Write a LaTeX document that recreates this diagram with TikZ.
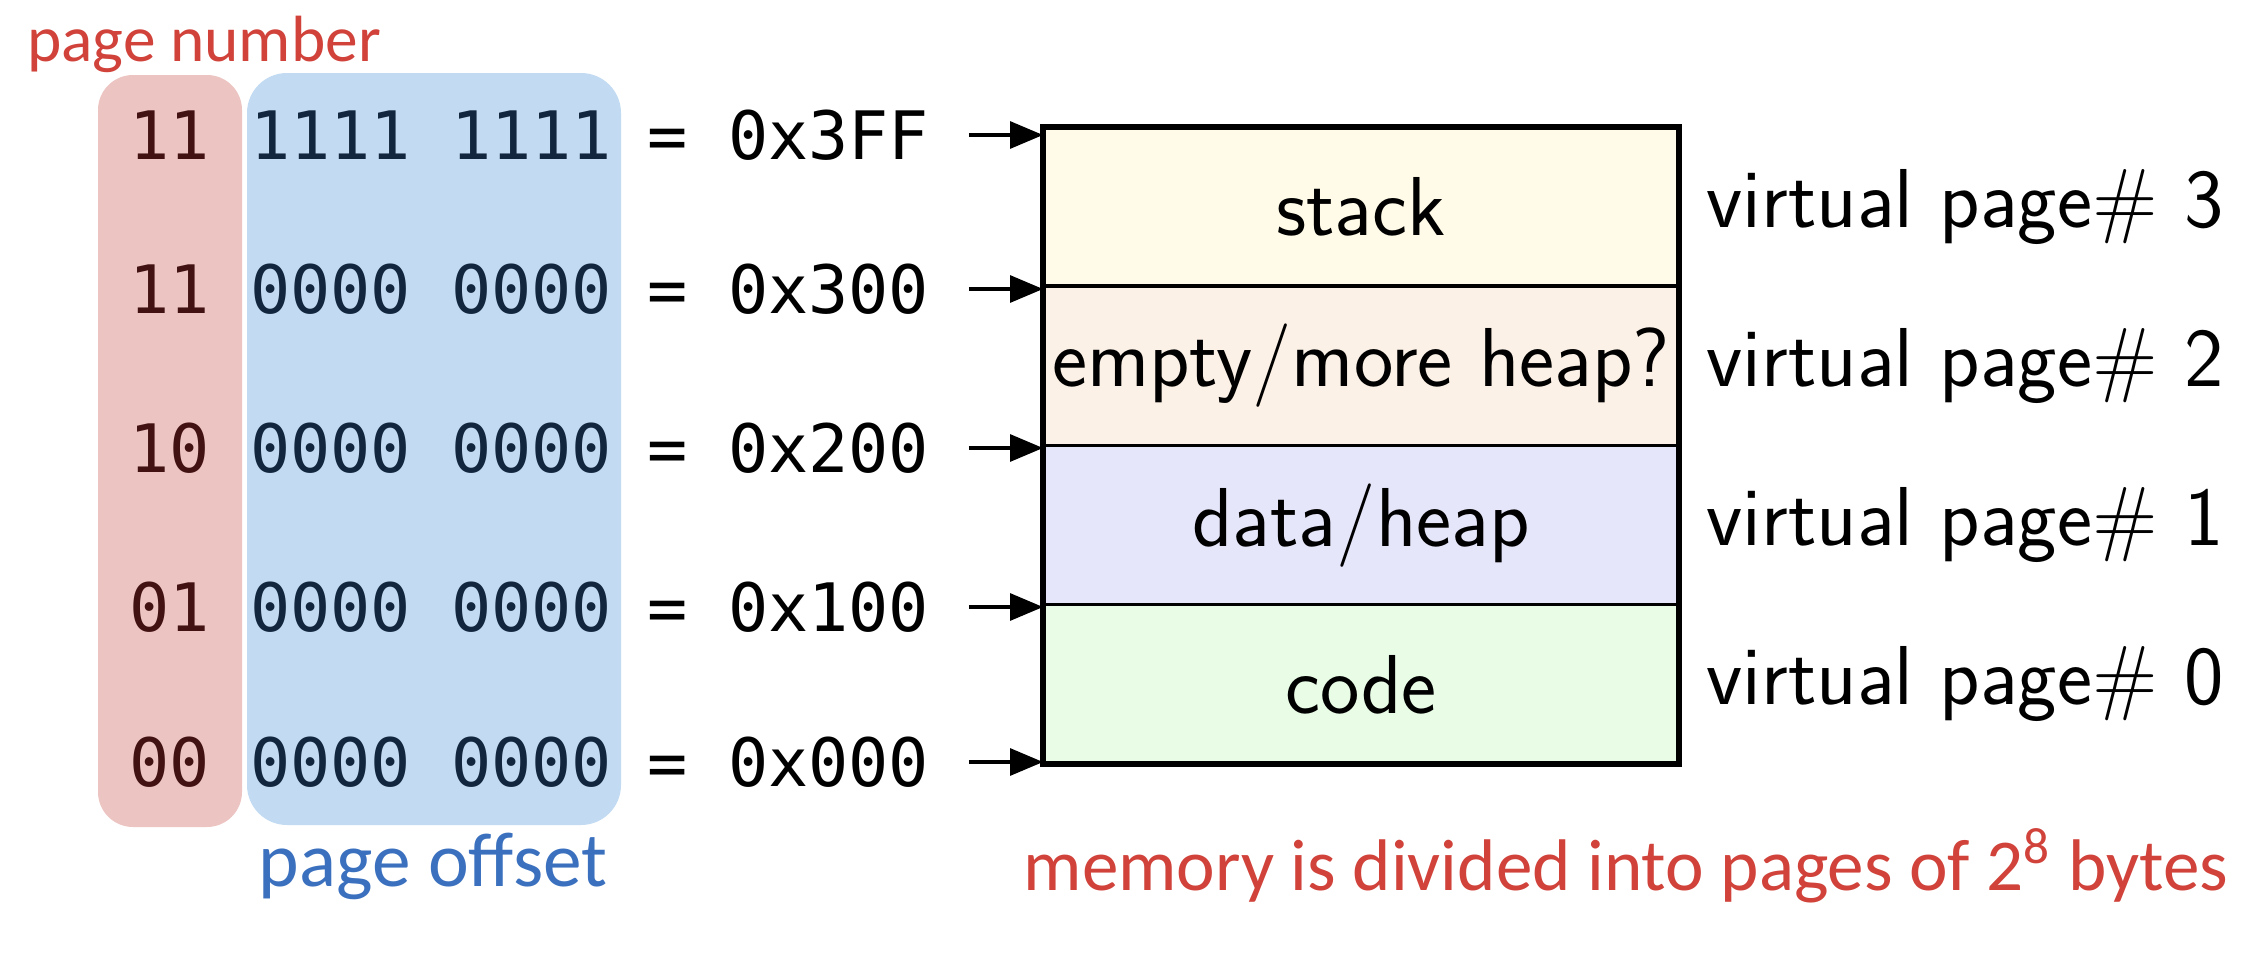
\documentclass[tikz,border=0pt]{standalone}
\usepackage{fontspec}
\newfontfamily\monofont{DejaVu Sans Mono}
\newfontfamily\handfont{Carlito}
\usetikzlibrary{arrows.meta,positioning}
\definecolor{pnfill}{RGB}{236,196,194}
\definecolor{pofill}{RGB}{194,219,242}
\definecolor{pntext}{RGB}{66,18,18}
\definecolor{potext}{RGB}{18,38,62}
\definecolor{stackc}{RGB}{255,251,232}
\definecolor{emptyc}{RGB}{252,241,230}
\definecolor{datac}{RGB}{230,230,250}
\definecolor{codec}{RGB}{232,252,230}
\definecolor{handred}{RGB}{208,66,58}
\definecolor{handblue}{RGB}{58,112,190}

\begin{document}
\begin{tikzpicture}[
    cell/.style={rectangle, draw=black, line width=1pt, minimum width=6.36cm, minimum height=1.5925cm,
    inner sep=0pt, outer sep=0pt, font=\sffamily\fontsize{23.8}{28}\selectfont},
    bits/.style={inner sep=0pt, font=\monofont\fontsize{19}{23}\selectfont},
    addr/.style={bits, anchor=west},
    vpage/.style={inner sep=0pt, anchor=west, font=\sffamily\fontsize{23.8}{28}\selectfont},
    hand/.style={inner sep=0pt, anchor=base, font=\handfont\fontsize{20.8}{25}\selectfont},
    arr/.style={-{Triangle[length=3.3mm,width=2.7mm]}, line width=0.9pt, shorten <=3.9mm}]
    \useasboundingbox (0,0) rectangle (22.68,-9.70);
    % bit fields
    \fill[pnfill, rounded corners=0.35cm] (0.98,-0.75) rectangle (2.42,-8.27);
    \fill[pofill, rounded corners=0.4cm] (2.47,-0.73) rectangle (6.21,-8.25);
    \node[hand, text=handred, font=\handfont\fontsize{18.6}{22}\selectfont] (pnlabel) at (2.04,-0.61) {page number};
    \node[hand, text=handblue, font=\handfont\fontsize{22}{26}\selectfont] (polabel) at (4.33,-8.86) {page offset};

    % memory layout
    \node[cell, fill=stackc] (stack) at (13.61,-2.066) {stack};
    \node[cell, fill=emptyc, below=0pt of stack] (empty) {empty/more heap?};
    \node[cell, fill=datac, below=0pt of empty] (data) {data/heap};
    \node[cell, fill=codec, below=0pt of data] (code) {code};
    \draw[line width=1.6pt] (stack.north west) rectangle (code.south east);

    \node[vpage, right=0.27cm of stack] (vp3) {virtual page\# 3};
    \node[vpage, right=0.27cm of empty] (vp2) {virtual page\# 2};
    \node[vpage, right=0.27cm of data] (vp1) {virtual page\# 1};
    \node[vpage, right=0.27cm of code] (vp0) {virtual page\# 0};

    % addresses
    \node[bits, text=pntext] (pn3) at (1.70,-1.35) {11};
    \node[bits, text=potext] (po3) at (4.31,-1.35) {1111 1111};
    \node[addr] (a3) at (6.47,-1.35) {= 0x3FF};
    \node[bits, text=pntext] (pn2) at (1.70,-2.89) {11};
    \node[bits, text=potext] (po2) at (4.31,-2.89) {0000 0000};
    \node[addr] (a2) at (6.47,-2.89) {= 0x300};
    \node[bits, text=pntext] (pn1) at (1.70,-4.48) {10};
    \node[bits, text=potext] (po1) at (4.31,-4.48) {0000 0000};
    \node[addr] (a1) at (6.47,-4.48) {= 0x200};
    \node[bits, text=pntext] (pn0) at (1.70,-6.07) {01};
    \node[bits, text=potext] (po0) at (4.31,-6.07) {0000 0000};
    \node[addr] (a0) at (6.47,-6.07) {= 0x100};
    \node[bits, text=pntext] (pnz) at (1.70,-7.62) {00};
    \node[bits, text=potext] (poz) at (4.31,-7.62) {0000 0000};
    \node[addr] (az) at (6.47,-7.62) {= 0x000};

    \draw[arr] (a3.east) -- (a3 -| stack.west);
    \draw[arr] (a2.east) -- (a2 -| stack.west);
    \draw[arr] (a1.east) -- (a1 -| stack.west);
    \draw[arr] (a0.east) -- (a0 -| stack.west);
    \draw[arr] (az.east) -- (az -| stack.west);

    \node[hand, text=handred] (note) at (16.26,-8.90) {memory is divided into pages of 2\textsuperscript{8} bytes};
\end{tikzpicture}
\end{document}
